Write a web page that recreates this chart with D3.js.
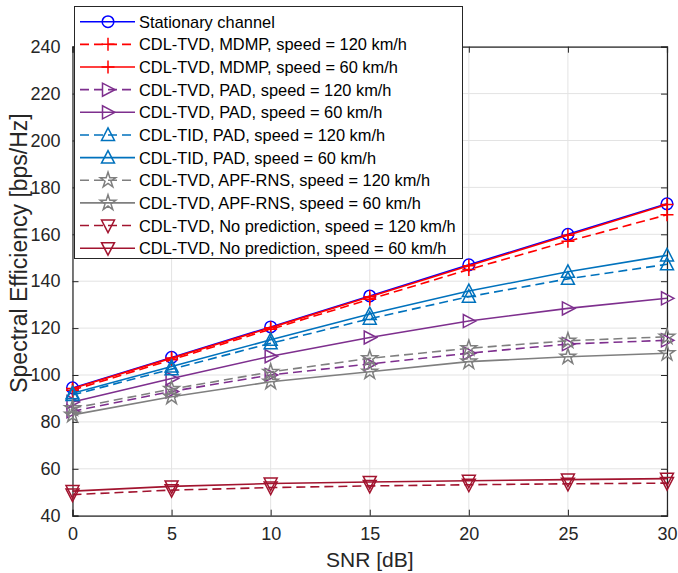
<!DOCTYPE html>
<html><head><meta charset="utf-8">
<script src="https://cdn.jsdelivr.net/npm/d3@7"></script>
<style>body{margin:0;background:#fff}svg{display:block}text{font-family:"Liberation Sans",Arial,sans-serif}</style>
</head><body><svg id="c" width="678" height="573"></svg>
<script>
const snr = [0, 5, 10, 15, 20, 25, 30];
const xTicks = [0, 5, 10, 15, 20, 25, 30];
const yTicks = [40, 60, 80, 100, 120, 140, 160, 180, 200, 220, 240];
const seriesNames = [
  "Stationary channel",
  "CDL-TVD, MDMP, speed = 120 km/h",
  "CDL-TVD, MDMP, speed = 60 km/h",
  "CDL-TVD, PAD, speed = 120 km/h",
  "CDL-TVD, PAD, speed = 60 km/h",
  "CDL-TID, PAD, speed = 120 km/h",
  "CDL-TID, PAD, speed = 60 km/h",
  "CDL-TVD, APF-RNS, speed = 120 km/h",
  "CDL-TVD, APF-RNS, speed = 60 km/h",
  "CDL-TVD, No prediction, speed = 120 km/h",
  "CDL-TVD, No prediction, speed = 60 km/h"
];
const stationary   = [94.5, 107.5, 120.5, 133.7, 147, 160, 173];
const mdmp120      = [93.5, 106.5, 119.5, 132.3, 145, 157, 168.3];
const mdmp60       = [94.2, 107.2, 120.2, 133.4, 146.6, 159.6, 172.7];
const tvdPad120    = [84.5, 93, 100, 104.7, 109.3, 113.2, 114.8];
const tvdPad60     = [88.5, 98.5, 108, 116, 123, 128.4, 132.7];
const tidPad120    = [91.5, 102.5, 113.5, 124, 133.4, 141, 147.2];
const tidPad60     = [92.2, 103.6, 115, 126, 135.8, 144, 151];
const apf120       = [85.8, 94, 101.3, 107.1, 111.4, 114.6, 116.3];
const apf60        = [83, 90.7, 97.1, 101.4, 105.7, 107.8, 109.3];
const noPred120    = [49, 50.9, 52, 52.7, 53.2, 53.6, 53.9];
const noPred60     = [50.5, 52.5, 53.7, 54.4, 54.9, 55.4, 55.8];

const seriesValues = [stationary, mdmp120, mdmp60, tvdPad120, tvdPad60, tidPad120, tidPad60, apf120, apf60, noPred120, noPred60];
const colors = ["#0000ff","#ff0000","#ff0000","#7e2f8e","#7e2f8e","#0072bd","#0072bd","#7f7f7f","#7f7f7f","#a2142f","#a2142f"];
const dashed = [false,true,false,true,false,true,false,true,false,true,false];
const markers = ["circle","plus","plus","right","right","up","up","star","star","down","down"];

const svg = d3.select("#c");
const L = 72.5, R = 667, T = 46.7, B = 515.7;
const x = d3.scaleLinear().domain([0,30]).range([L,R]);
const y = d3.scaleLinear().domain([40,240]).range([B,T]);

// grid
const g = svg.append("g");
g.selectAll(".gx").data(xTicks).join("line").attr("x1",d=>x(d)).attr("x2",d=>x(d)).attr("y1",T).attr("y2",B)
 .attr("stroke","#e3e3e3").attr("stroke-width",1);
g.selectAll(".gy").data(yTicks).join("line").attr("y1",d=>y(d)).attr("y2",d=>y(d)).attr("x1",L).attr("x2",R)
 .attr("stroke","#e3e3e3").attr("stroke-width",1);

// axes
const axColor = "#262626";
const xAxis = d3.axisBottom(x).tickValues(xTicks).tickSize(-6).tickPadding(12);
const yAxis = d3.axisLeft(y).tickValues(yTicks).tickSize(-6).tickPadding(12);
const gx = svg.append("g").attr("transform",`translate(0,${B})`).call(xAxis);
const gy = svg.append("g").attr("transform",`translate(${L},0)`).call(yAxis);
svg.append("g").attr("transform",`translate(0,${T})`).call(d3.axisTop(x).tickValues(xTicks).tickSize(-6).tickFormat(""));
svg.append("g").attr("transform",`translate(${R},0)`).call(d3.axisRight(y).tickValues(yTicks).tickSize(-6).tickFormat(""));
svg.selectAll(".domain").attr("stroke",axColor).attr("stroke-width",1.2);
svg.selectAll(".tick line").attr("stroke",axColor).attr("stroke-width",1);
svg.selectAll(".tick text").attr("fill",axColor).style("font-size","18px").style("font-family","'Liberation Sans', Arial, sans-serif");

svg.append("text").attr("x",(L+R)/2).attr("y",567).attr("text-anchor","middle").attr("fill",axColor)
 .style("font-size","21px").text("SNR [dB]");
svg.append("text").attr("transform",`translate(27,253) rotate(-90)`).attr("text-anchor","middle").attr("fill",axColor)
 .style("font-size","23px").text("Spectral Efficiency [bps/Hz]");

function markerPath(type){
  const s = 6.5;
  switch(type){
    case "circle": return d3.symbol(d3.symbolCircle, Math.PI*5.8*5.8)();
    case "plus": return `M${-s},0L${s},0M0,${-s}L0,${s}`;
    case "up": return `M0,${-s-0.5}L${s},${s-1}L${-s},${s-1}Z`;
    case "down": return `M0,${s+0.5}L${s},${-s+1}L${-s},${-s+1}Z`;
    case "right": return `M${s+0.5},0L${-s+1},${-s}L${-s+1},${s}Z`;
    case "star": return d3.symbol(d3.symbolStar, 75)();
  }
}

const line = d3.line().x((d,i)=>x(snr[i])).y(d=>y(d));
const plot = svg.append("g");
seriesValues.forEach((vals,k)=>{
  const sg = plot.append("g");
  sg.append("path").attr("d",line(vals)).attr("fill","none").attr("stroke",colors[k]).attr("stroke-width",1.6)
    .attr("stroke-dasharray",dashed[k]?"9,5":null);
  sg.selectAll("path.m").data(vals).join("path").attr("class","m")
    .attr("transform",(d,i)=>`translate(${x(snr[i])},${y(d)})`)
    .attr("d",markerPath(markers[k])).attr("fill","none").attr("stroke",colors[k]).attr("stroke-width",1.5);
});

// legend
const lg = svg.append("g");
lg.append("rect").attr("x",74.5).attr("y",6.5).attr("width",388).attr("height",252).attr("fill","#fff")
  .attr("stroke",axColor).attr("stroke-width",1);
seriesNames.forEach((name,k)=>{
  const yy = 21.7 + k*22.65;
  lg.append("line").attr("x1",80).attr("x2",135).attr("y1",yy).attr("y2",yy).attr("stroke",colors[k]).attr("stroke-width",1.6)
    .attr("stroke-dasharray",dashed[k]?"9,5":null);
  lg.append("path").attr("transform",`translate(108,${yy})`).attr("d",markerPath(markers[k]))
    .attr("fill","none").attr("stroke",colors[k]).attr("stroke-width",1.5);
  lg.append("text").attr("x",139).attr("y",yy+6).attr("fill","#000").style("font-size","16.4px").text(name);
});
</script></body></html>
